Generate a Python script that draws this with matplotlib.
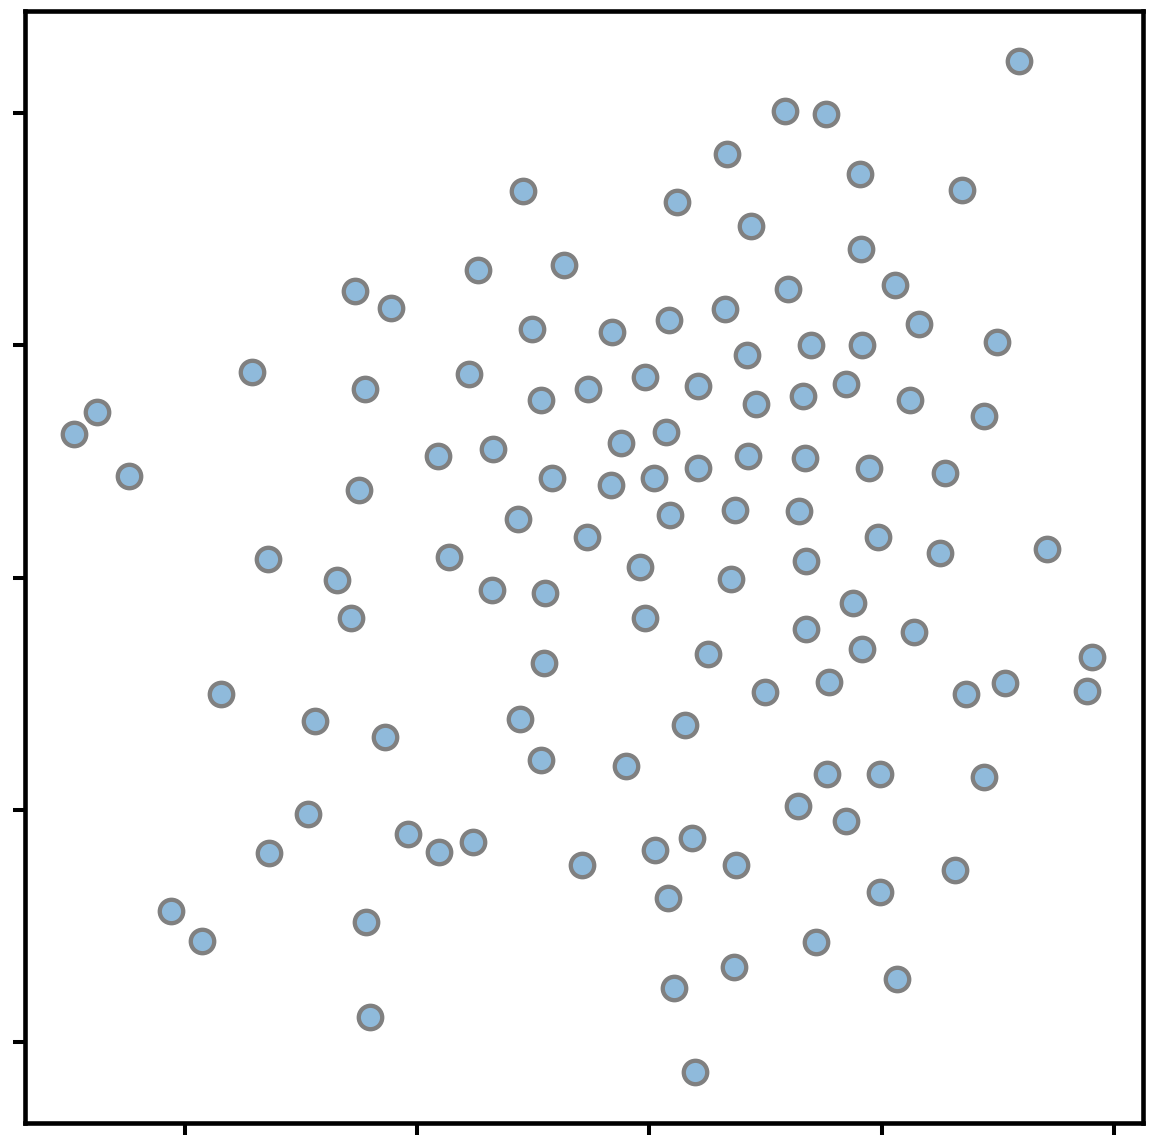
import matplotlib.pyplot as plt

# point positions (tick spacing = 1 unit)
x = [1.590, 0.583, 0.759, 0.333, 0.906, -0.544, 1.345, 0.118, 0.437, 0.910,
     -0.738, -0.368, 0.596, 1.056, -1.267, -1.112, -0.506, -0.161, 0.084, 0.325,
     1.160, 1.495, 0.695, 0.914, 0.420, -1.710, -0.777, -1.224, -0.265, -0.019,
     0.209, 0.846, -0.467, 0.458, 0.661, 1.121, -2.377, -2.476, 1.439, 0.071,
     -0.123, -0.673, -0.910, -2.240, -0.420, -0.166, 0.019, 0.209, 0.424, 0.669,
     0.944, 1.272, -1.250, -0.566, 0.088, 0.368, 0.643, -0.269, 0.983, -1.642,
     -0.863, 0.673, 1.250, 1.710, -1.345, -0.041, 0.351, -0.678, -0.450, 0.876,
     -1.284, -0.019, 0.673, 1.138, 0.914, 0.252, 1.904, -0.454, 0.772, 1.530,
     -1.844, 0.497, 1.362, 1.883, -1.439, -0.557, 0.153, -1.138, -0.467, -0.101,
     0.764, 0.992, 1.439, -1.469, 0.639, 0.846, -1.039, -0.759, 0.183, -1.637,
     -0.906, 0.024, -0.290, 0.372, 1.315, 0.992, 0.080, -2.059, -1.220, -1.926,
     0.716, 0.364, 1.065, 0.105, -1.203, 0.196]
y = [2.222, 2.007, 1.994, 1.822, 1.736, 1.663, 1.667, 1.616, 1.512, 1.413,
     1.323, 1.345, 1.241, 1.259, 1.233, 1.160, 1.069, 1.056, 1.108, 1.155,
     1.091, 1.013, 1.000, 1.000, 0.957, 0.884, 0.876, 0.811, 0.811, 0.863,
     0.824, 0.833, 0.764, 0.747, 0.781, 0.764, 0.712, 0.617, 0.695, 0.626,
     0.579, 0.553, 0.523, 0.437, 0.428, 0.398, 0.428, 0.471, 0.523, 0.514,
     0.471, 0.450, 0.377, 0.252, 0.269, 0.290, 0.286, 0.174, 0.174, 0.080,
     0.088, 0.071, 0.105, 0.123, -0.011, 0.045, -0.006, -0.054, -0.067, -0.110,
     -0.174, -0.174, -0.222, -0.235, -0.308, -0.329, -0.342, -0.368, -0.450, -0.454,
     -0.501, -0.493, -0.501, -0.488, -0.617, -0.609, -0.635, -0.686, -0.785, -0.811,
     -0.846, -0.846, -0.858, -1.018, -0.983, -1.048, -1.104, -1.138, -1.121, -1.185,
     -1.181, -1.173, -1.237, -1.237, -1.259, -1.353, -1.379, -1.435, -1.482, -1.564,
     -1.568, -1.676, -1.728, -1.766, -1.891, -2.128]

xticks = [-2, -1, 0, 1, 2]
yticks = [-2, -1, 0, 1, 2]

fig = plt.figure(figsize=(11.52, 11.46), dpi=100)
ax = fig.add_axes([0.0213, 0.0201, 0.9713, 0.9703])

ax.scatter(x, y, s=285, c='#8fbadb', edgecolors='#808080', linewidths=3.1, zorder=3)

ax.set_xlim(-2.689, 2.126)
ax.set_ylim(-2.347, 2.438)
ax.set_xticks(xticks)
ax.set_yticks(yticks)
ax.set_xticklabels([])
ax.set_yticklabels([])
ax.tick_params(length=8.6, width=2.9, color='black')
for sp in ax.spines.values():
    sp.set_linewidth(3.3)

fig.savefig('out.png', dpi=100)
